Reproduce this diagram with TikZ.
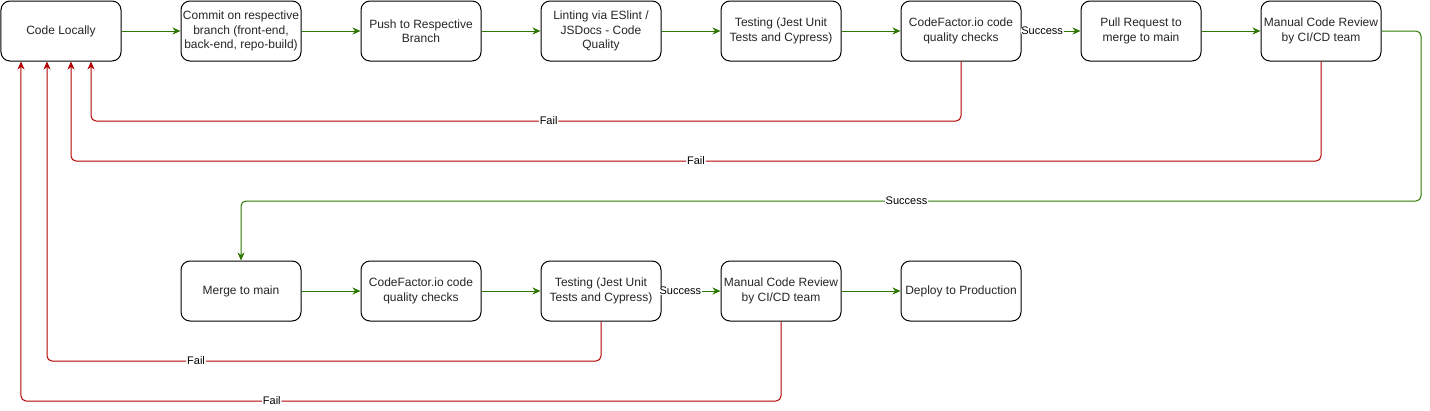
\documentclass[tikz,border=0pt]{standalone}
\usepackage{fontspec}
\setmainfont{Liberation Sans}
\usetikzlibrary{arrows.meta}
\definecolor{okgreen}{HTML}{2D7600}
\definecolor{failred}{HTML}{B20000}
\tikzset{
  stepbox/.style={draw=black, line width=1pt, rounded corners=9pt, minimum width=120pt,
    minimum height=60pt, inner sep=0pt, align=center, fill=white,
    font=\fontsize{12}{14.5}\selectfont, text=black!85},
  tip/.style={-{Stealth[length=8pt,width=7pt,inset=2.5pt]}},
  ok/.style={tip, color=okgreen, line width=1pt, rounded corners=5pt},
  fail/.style={tip, color=failred, line width=1pt, rounded corners=5pt},
  lbl/.style={fill=white, inner sep=1pt, text=black, font=\fontsize{11}{13}\selectfont}
}
\begin{document}
\begin{tikzpicture}[x=1pt,y=-1pt]
\useasboundingbox (-1,-1) rectangle (1429,409);
% top row
\node[stepbox] (a1) at (60,30) {Code Locally};
\node[stepbox] (a2) at (240,30) {Commit on respective\\branch (front-end,\\back-end, repo-build)};
\node[stepbox] (a3) at (420,30) {Push to Respective\\Branch};
\node[stepbox] (a4) at (600,30) {Linting via ESlint /\\JSDocs - Code\\Quality};
\node[stepbox] (a5) at (780,30) {Testing (Jest Unit\\Tests and Cypress)};
\node[stepbox] (a6) at (960,30) {CodeFactor.io code\\quality checks};
\node[stepbox] (a7) at (1140,30) {Pull Request to\\merge to main};
\node[stepbox] (a8) at (1320,30) {Manual Code Review\\by CI/CD team};
% bottom row
\node[stepbox] (b1) at (240,290) {Merge to main};
\node[stepbox] (b2) at (420,290) {CodeFactor.io code\\quality checks};
\node[stepbox] (b3) at (600,290) {Testing (Jest Unit\\Tests and Cypress)};
\node[stepbox] (b4) at (780,290) {Manual Code Review\\by CI/CD team};
\node[stepbox] (b5) at (960,290) {Deploy to Production};
% success path
\draw[ok] (a1) -- (a2);
\draw[ok] (a2) -- (a3);
\draw[ok] (a3) -- (a4);
\draw[ok] (a4) -- (a5);
\draw[ok] (a5) -- (a6);
\draw[ok] (a6) -- node[lbl, pos=0.35]{Success} (a7);
\draw[ok] (a7) -- (a8);
\draw[ok] (a8.east) -- (1420,30) -- (1420,200) -- node[lbl, pos=0.436]{Success} (240,200) -- (b1.north);
\draw[ok] (b1) -- (b2);
\draw[ok] (b2) -- (b3);
\draw[ok] (b3) -- node[lbl, pos=0.32]{Success} (b4);
\draw[ok] (b4) -- (b5);
% fail paths
\draw[fail] (a6.south) -- (960,120) -- node[lbl, pos=0.474]{Fail} (90,120) -- ([xshift=30pt]a1.south);
\draw[fail] (a8.south) -- (1320,160) -- node[lbl, pos=0.5]{Fail} (70,160) -- ([xshift=10pt]a1.south);
\draw[fail] (b3.south) -- (600,360) -- node[lbl, pos=0.731]{Fail} (46,360) -- ([xshift=-14pt]a1.south);
\draw[fail] (b4.south) -- (780,400) -- node[lbl, pos=0.67]{Fail} (20,400) -- ([xshift=-40pt]a1.south);
\end{tikzpicture}
\end{document}
